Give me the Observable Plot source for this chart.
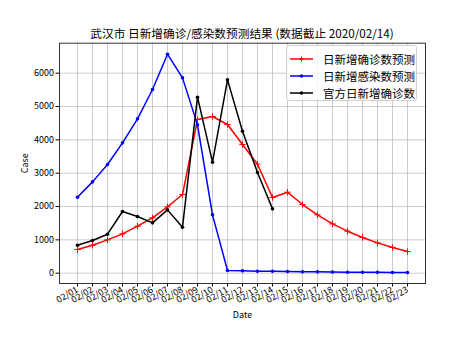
<!DOCTYPE html>
<html>
<head>
<meta charset="utf-8">
<script src="https://cdn.jsdelivr.net/npm/d3@7"></script>
<script src="https://cdn.jsdelivr.net/npm/@observablehq/plot@0.6"></script>
<style>
  html, body { margin: 0; padding: 0; background: #fff; }
  #wrap { position: relative; width: 472px; height: 354px; font-family: "Noto Sans CJK SC", sans-serif; color: #000; }
  #title { position: absolute; left: 59px; width: 366px; top: 25px; line-height: 16px; font-size: 11.7px; text-align: center; white-space: nowrap; }
  #chart { position: absolute; left: 0; top: 38px; }
  #legend { position: absolute; left: 286px; top: 45px; width: 131px; height: 56px; box-sizing: border-box; border: 1px solid #d0d0d0; border-radius: 3px; background: rgba(255,255,255,0.85); }
  .row { position: absolute; left: 0; height: 17px; display: flex; align-items: center; font-size: 11.5px; white-space: nowrap; }
  .row svg { margin-left: 3px; margin-right: 10px; }
</style>
</head>
<body>
<div id="wrap">
  <div id="title"></div>
  <div id="chart"></div>
  <div id="legend"></div>
</div>
<script>
const titleText = "武汉市 日新增确诊/感染数预测结果 (数据截止 2020/02/14)";
const dates = ["02/01","02/02","02/03","02/04","02/05","02/06","02/07","02/08","02/09","02/10","02/11","02/12","02/13","02/14","02/15","02/16","02/17","02/18","02/19","02/20","02/21","02/22","02/23"];
const predConfirmed = [710, 840, 1000, 1180, 1410, 1660, 1990, 2360, 4610, 4700, 4460, 3860, 3270, 2270, 2430, 2060, 1750, 1480, 1260, 1070, 910, 770, 650];
const predInfected = [2280, 2740, 3260, 3910, 4630, 5510, 6570, 5860, 4450, 1750, 80, 70, 60, 60, 50, 45, 40, 35, 30, 28, 25, 22, 20];
const official = [840, 980, 1170, 1850, 1700, 1510, 1900, 1380, 5280, 3330, 5800, 4260, 3020, 1930];
const seriesNames = ["日新增确诊数预测", "日新增感染数预测", "官方日新增确诊数"];
const seriesColors = ["#ff0000", "#0000ff", "#000000"];
const yTicks = [0, 1000, 2000, 3000, 4000, 5000, 6000];

const rows = s => s.map((v, i) => ({date: dates[i], value: v}));
const redRows = rows(predConfirmed);
const blueRows = rows(predInfected);
const blackRows = rows(official);

document.getElementById("title").textContent = titleText;

const chart = Plot.plot({
  width: 472,
  height: 316,
  marginTop: 4.7,
  marginLeft: 59,
  marginRight: 47,
  marginBottom: 71,
  style: { fontFamily: "'Noto Sans CJK SC', sans-serif", fontSize: "9px", color: "#000", background: "transparent" },
  x: { type: "point", domain: dates, padding: 1.1 },
  y: { domain: [-309, 6900] },
  marks: [
    Plot.gridX(dates, { stroke: "#b0b0b0", strokeOpacity: 0.65 }),
    Plot.gridY(yTicks, { stroke: "#b0b0b0", strokeOpacity: 0.65 }),
    Plot.line(redRows, { x: "date", y: "value", stroke: seriesColors[0], strokeWidth: 1.5 }),
    Plot.dot(redRows, { x: "date", y: "value", stroke: seriesColors[0], symbol: "plus", r: 2.2, strokeWidth: 1 }),
    Plot.line(blueRows, { x: "date", y: "value", stroke: seriesColors[1], strokeWidth: 1.5 }),
    Plot.dot(blueRows, { x: "date", y: "value", fill: seriesColors[1], r: 1.8 }),
    Plot.line(blackRows, { x: "date", y: "value", stroke: seriesColors[2], strokeWidth: 1.5 }),
    Plot.dot(blackRows, { x: "date", y: "value", fill: seriesColors[2], r: 1.8 }),
    Plot.frame({ stroke: "#333", strokeWidth: 1 }),
    Plot.axisX({ tickRotate: -30, tickSize: 3.5, tickPadding: 2, label: "Date", labelAnchor: "center", labelArrow: "none", labelOffset: 34 }),
    Plot.axisY({ ticks: yTicks, tickFormat: d => String(d), tickSize: 3.5, tickPadding: 2, label: "Case", labelAnchor: "center", labelArrow: "none", labelOffset: 38 })
  ]
});
document.getElementById("chart").appendChild(chart);

const legend = document.getElementById("legend");
seriesNames.forEach((name, i) => {
  const row = document.createElement("div");
  row.className = "row";
  row.style.top = (4 + i * 17.2) + "px";
  const marker = i === 0
    ? `<line x1="11.5" x2="11.5" y1="1.5" y2="6.5" stroke="${seriesColors[i]}" stroke-width="1"/><line x1="9" x2="14" y1="4" y2="4" stroke="${seriesColors[i]}" stroke-width="1"/>`
    : `<circle cx="11.5" cy="4" r="1.8" fill="${seriesColors[i]}"/>`;
  row.innerHTML = `<svg width="23" height="8"><line x1="0" x2="23" y1="4" y2="4" stroke="${seriesColors[i]}" stroke-width="1.5"/>${marker}</svg><span>${name}</span>`;
  legend.appendChild(row);
});
</script>
</body>
</html>
